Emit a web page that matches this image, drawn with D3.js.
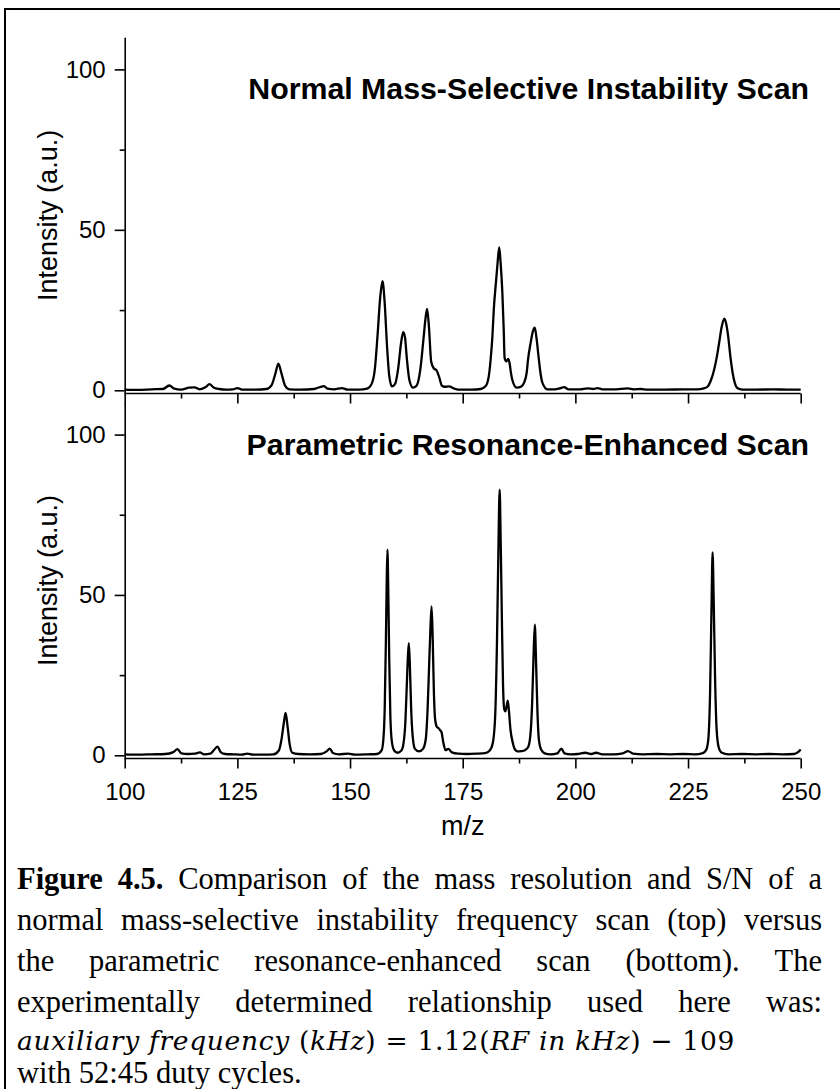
<!DOCTYPE html>
<html>
<head>
<meta charset="utf-8">
<script src="https://cdn.jsdelivr.net/npm/d3@7"></script>
<style>
  html, body { margin: 0; padding: 0; background: #fff; }
  svg { display: block; }
</style>
</head>
<body>
<svg id="fig" width="840" height="1089"></svg>
<script>
// Spectrum traces: [m/z, intensity (a.u.)]
const topScan = [
  [100,0.2],[103,0.1],[106,0.3],[108.5,0.4],[109.9,1.5],[111,0.5],[112.5,0.2],[114.3,0.8],[115.5,0.9],
  [116.6,0.3],[118,1.0],[118.8,1.9],[119.8,0.8],[121,0.4],[122.5,0.2],[124,0.3],[125,0.7],[126,0.2],
  [129,0.2],[131.5,0.4],[132.6,1.6],[133.4,5.0],[134.1,8.3],[134.8,5.2],[135.6,1.4],[136.5,0.3],
  [139,0.2],[142,0.4],[143.5,1.1],[144.2,1.3],[145,0.5],[146.5,0.3],[148.2,0.7],[149.5,0.2],[152,0.2],
  [153.8,0.5],[154.8,2.0],[155.5,6.5],[156.1,17],[156.7,29],[157.2,34],[157.7,27],[158.2,14],[158.7,4.5],
  [159.3,1.2],[160,2.0],[160.7,7],[161.3,14.5],[161.8,18.1],[162.2,16.5],[162.6,10],[163.2,3.0],[164,0.8],
  [164.8,1.5],[165.6,6.5],[166.3,16],[166.8,23],[167.1,25.4],[167.5,20],[168.0,9],[168.6,6.8],[169.2,6.2],
  [169.8,4.0],[170.4,1.4],[171,1.1],[172,1.2],[173,0.6],[174,0.2],[177,0.2],[179,0.4],[180.1,1.3],
  [180.8,4.5],[181.2,9.6],[181.6,17],[181.9,25.2],[182.4,34],[182.7,39],[183.1,44.5],[183.4,40],
  [183.8,30.4],[184.1,19],[184.3,10.1],[184.7,9.0],[185.1,9.8],[185.4,8.5],[185.7,5.5],[186.0,3.3],
  [187.0,0.8],[188.0,1.2],[188.6,2.3],[189.2,5.5],[189.5,9.6],[190.1,15],[190.6,18.5],[191.0,19.5],
  [191.4,16],[191.9,9.6],[192.3,5],[192.7,2.3],[193.8,0.3],[195.5,0.3],[196.5,0.6],[197.5,1.0],[198.5,0.3],
  [201,0.3],[202.7,0.6],[204,0.4],[204.9,0.7],[206,0.3],[209,0.3],[211.6,0.6],[213,0.3],[214.5,0.4],
  [216,0.2],[220,0.2],[224,0.3],[227,0.3],[228.5,0.6],[229.3,1.1],[230.1,3.2],[230.8,6.5],[231.4,10.5],
  [231.9,14.8],[232.5,20],[233.1,22.3],[233.5,20.5],[233.9,16.9],[234.4,10.5],[234.9,5.4],[235.4,2.2],
  [236,0.6],[237,0.2],[240,0.2],[244,0.3],[247,0.2],[250,0.2]
];

const bottomScan = [
  [100,0.3],[103,0.2],[106,0.3],[109,0.4],[110.8,1.0],[111.7,1.9],[112.6,0.6],[114,0.4],[115.5,0.5],
  [116.7,0.9],[117.6,0.3],[119,0.5],[119.9,1.8],[120.6,2.7],[121.3,1.0],[122.3,0.4],[124,0.3],[126,0.2],
  [127.2,0.5],[128.5,0.2],[131,0.2],[133,0.3],[134.2,1.5],[134.8,5],[135.3,10],[135.7,13.2],[136.1,9.5],
  [136.6,3.5],[137.2,0.8],[138.5,0.4],[141,0.3],[143.5,0.4],[144.8,1.2],[145.5,2.1],[146.2,0.7],
  [147.5,0.3],[149.6,0.5],[151,0.2],[154,0.3],[156,0.4],[157.0,1.5],[157.4,5],[157.7,15],[157.95,35],
  [158.15,55],[158.3,64.1],[158.5,50],[158.7,30],[158.95,12],[159.3,4],[159.8,1.5],[160.5,0.8],
  [161.4,1.5],[161.9,4],[162.3,11],[162.6,22],[162.85,31],[163.05,35],[163.3,27],[163.55,15],[163.9,6],
  [164.4,2.0],[165.3,1.2],[166.2,2.0],[166.8,5],[167.2,14],[167.55,28],[167.85,40],[168.1,46.4],
  [168.35,36],[168.6,20],[168.9,11],[169.3,8.8],[169.6,8.5],[170.0,7.8],[170.3,7.2],[170.7,4],
  [171.2,1.6],[171.8,2.0],[172.6,0.9],[174,0.5],[176,0.4],[178,0.5],[180,0.7],[181.0,1.5],[181.7,4],
  [182.2,12],[182.6,35],[182.9,62],[183.2,82.8],[183.45,65],[183.7,42],[183.95,22],[184.2,14.5],
  [184.45,13.7],[184.7,15],[185.0,17.0],[185.25,14],[185.6,8],[186.1,4],[186.6,1.8],[187.2,1.2],
  [188.0,1.3],[188.8,1.6],[189.5,2.5],[190.0,6],[190.4,16],[190.7,30],[191.0,40.7],[191.3,28],
  [191.6,13],[191.9,5],[192.4,1.8],[193.2,0.6],[194.5,0.3],[196.0,0.6],[196.9,2.1],[197.6,0.6],
  [199,0.3],[200.5,0.4],[202.2,0.8],[203.5,0.4],[204.6,0.8],[206,0.3],[208.5,0.3],[210.5,0.6],
  [211.7,1.3],[212.8,0.5],[215,0.3],[218,0.4],[221,0.3],[224,0.4],[226.5,0.3],[228.3,0.7],[229.0,1.6],
  [229.5,5],[229.9,20],[230.2,45],[230.45,63.3],[230.7,48],[231.0,24],[231.35,8],[231.8,2.5],
  [232.4,0.9],[234,0.3],[237,0.4],[240,0.3],[243,0.4],[246,0.3],[248.5,0.4],[249.4,1.0],[250,1.8]
];

const panelTitles = ["Normal Mass-Selective Instability Scan", "Parametric Resonance-Enhanced Scan"];
const xMajorTicks = [100, 125, 150, 175, 200, 225, 250];
const xMinorTicks = [112.5, 137.5, 162.5, 187.5, 212.5, 237.5];
const yMajorTicks = [0, 50, 100];
const yMinorTicks = [25, 75];
const xDomain = [100, 250];
const yDomain = [-1, 110];
const yAxisTitle = "Intensity (a.u.)";
const xAxisTitle = "m/z";

// Caption: each line is a list of [word, bold]; these four lines are justified
const captionLines = [
  [["Figure",1],["4.5.",1],["Comparison",0],["of",0],["the",0],["mass",0],["resolution",0],["and",0],["S/N",0],["of",0],["a",0]],
  [["normal",0],["mass-selective",0],["instability",0],["frequency",0],["scan",0],["(top)",0],["versus",0]],
  [["the",0],["parametric",0],["resonance-enhanced",0],["scan",0],["(bottom).",0],["The",0]],
  [["experimentally",0],["determined",0],["relationship",0],["used",0],["here",0],["was:",0]]
];
// equation pieces: [text, italic]
const equationParts = [
  ["auxiliary frequency ", true], ["(", false], ["kHz", true], [") = 1.12(", false],
  ["RF in kHz", true], [") \u2212 109", false]
];
const captionLast = "with 52:45 duty cycles.";

const svg = d3.select("#fig");
const sans = "'Liberation Sans', Arial, Helvetica, sans-serif";
const serif = "'Liberation Serif', 'Times New Roman', Times, serif";
const mathSerif = "'DejaVu Serif', 'Liberation Serif', serif";

svg.append("rect").attr("width", 840).attr("height", 1089).attr("fill", "#fff");

// partial frame around the figure (top and left edges)
svg.append("path")
  .attr("d", "M5,1089 V9 H840")
  .attr("fill", "none").attr("stroke", "#000").attr("stroke-width", 2);

const x = d3.scaleLinear().domain(xDomain).range([124.7, 800.7]);

const panels = [
  { data: topScan, range: [393.5, 37.3], title: panelTitles[0], titleY: 99, labels: false },
  { data: bottomScan, range: [758.5, 402.5], title: panelTitles[1], titleY: 455, labels: true }
];

panels.forEach(p => {
  const y = d3.scaleLinear().domain(yDomain).range(p.range);
  const g = svg.append("g");

  // trace
  g.append("path")
    .datum(p.data)
    .attr("fill", "none")
    .attr("stroke", "#000")
    .attr("stroke-width", 2.3)
    .attr("stroke-linejoin", "round")
    .attr("d", d3.line().x(d => x(d[0])).y(d => y(d[1])).curve(d3.curveMonotoneX));

  // x axis
  const yb = p.range[0];
  const xa = g.append("g").attr("transform", `translate(0,${yb})`)
    .call(d3.axisBottom(x).tickValues(xMajorTicks).tickSize(10).tickPadding(14)
      .tickFormat(p.labels ? d3.format("d") : () => ""));
  g.append("g").attr("transform", `translate(0,${yb})`)
    .call(d3.axisBottom(x).tickValues(xMinorTicks).tickSize(5).tickFormat(() => ""))
    .call(s => s.select(".domain").remove());

  // y axis
  g.append("g").attr("transform", `translate(${x(xDomain[0])},0)`)
    .call(d3.axisLeft(y).tickValues(yMajorTicks).tickSize(10).tickPadding(9).tickSizeOuter(0));
  g.append("g").attr("transform", `translate(${x(xDomain[0])},0)`)
    .call(d3.axisLeft(y).tickValues(yMinorTicks).tickSize(5).tickFormat(() => ""))
    .call(s => s.select(".domain").remove());

  g.selectAll(".domain").attr("stroke-width", 1.6).attr("stroke", "#000");
  g.selectAll(".tick line").attr("stroke-width", 1.6).attr("stroke", "#000");
  g.selectAll(".tick text").attr("font-family", sans).attr("font-size", 24).attr("fill", "#000");
  xa.select(".domain").attr("d", `M${x(xDomain[0])},0H${x(xDomain[1])}`);

  // panel title
  g.append("text")
    .attr("x", 809).attr("y", p.titleY)
    .attr("text-anchor", "end")
    .attr("font-family", sans).attr("font-size", 30.3).attr("font-weight", "bold")
    .text(p.title);

  // y axis title
  const cy = (p.range[0] + p.range[1]) / 2;
  g.append("text")
    .attr("transform", `translate(57,${cy}) rotate(-90)`)
    .attr("text-anchor", "middle")
    .attr("font-family", sans).attr("font-size", 27)
    .text(yAxisTitle);
});

// x axis title
svg.append("text")
  .attr("x", (x(xDomain[0]) + x(xDomain[1])) / 2).attr("y", 835)
  .attr("text-anchor", "middle")
  .attr("font-family", sans).attr("font-size", 27)
  .text(xAxisTitle);

// caption
const capLeft = 17, capRight = 822, capSize = 30.5, capTop = 889, capStep = 41;
const measure = svg.append("text").attr("font-family", serif).attr("font-size", capSize).attr("visibility", "hidden");
function widthOf(word, bold) {
  measure.attr("font-weight", bold ? "bold" : "normal").text(word);
  return measure.node().getComputedTextLength();
}
captionLines.forEach((words, i) => {
  const widths = words.map(w => widthOf(w[0], w[1]));
  const total = d3.sum(widths);
  const gap = (capRight - capLeft - total) / (words.length - 1);
  let cx = capLeft;
  words.forEach((w, j) => {
    svg.append("text")
      .attr("x", cx).attr("y", capTop + i * capStep)
      .attr("font-family", serif).attr("font-size", capSize)
      .attr("font-weight", w[1] ? "bold" : "normal")
      .text(w[0]);
    cx += widths[j] + gap;
  });
});
measure.remove();

// equation line, spread to its printed width
const eqRight = 735;
const eq = svg.append("text")
  .attr("x", capLeft).attr("y", 1050)
  .attr("font-family", mathSerif).attr("font-size", 26.5);
equationParts.forEach(s => eq.append("tspan").attr("font-style", s[1] ? "italic" : "normal").text(s[0]));
const eqChars = d3.sum(equationParts, s => s[0].length);
const eqNatural = eq.node().getComputedTextLength();
eq.attr("letter-spacing", (eqRight - capLeft - eqNatural) / eqChars);

svg.append("text")
  .attr("x", capLeft).attr("y", 1083)
  .attr("font-family", serif).attr("font-size", capSize)
  .text(captionLast);
</script>
</body>
</html>
